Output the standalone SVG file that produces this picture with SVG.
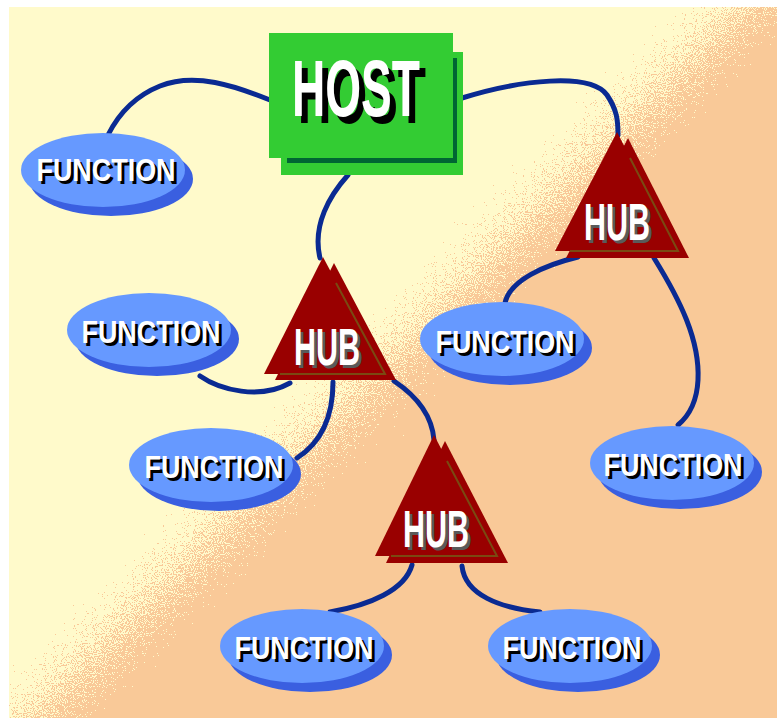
<svg xmlns="http://www.w3.org/2000/svg" width="777" height="718" viewBox="0 0 777 718">
  <defs>
    <linearGradient id="bandGrad" gradientUnits="userSpaceOnUse" x1="306" y1="306" x2="446" y2="446">
      <stop offset="0" stop-color="#f9c998" stop-opacity="0"/>
      <stop offset="1" stop-color="#f9c998" stop-opacity="1"/>
    </linearGradient>
    <!-- stippled transition between the two background tones -->
    <filter id="dither" x="0" y="0" width="100%" height="100%" color-interpolation-filters="sRGB">
      <feTurbulence type="fractalNoise" baseFrequency="0.9" numOctaves="1" seed="7" result="noise"/>
      <feColorMatrix in="noise" type="matrix" values="0 0 0 0 0  0 0 0 0 0  0 0 0 0 0  1 0 0 0 0" result="n"/>
      <feComposite in="SourceGraphic" in2="n" operator="arithmetic" k1="0" k2="1" k3="1" k4="-0.5" result="sum"/>
      <feComponentTransfer in="sum" result="mask">
        <feFuncA type="discrete" tableValues="0 1"/>
      </feComponentTransfer>
      <feFlood flood-color="#f9c998" result="peach"/>
      <feComposite in="peach" in2="mask" operator="in"/>
    </filter>
  </defs>
  <style>
    .link { fill: none; stroke: #0a2a92; stroke-width: 5; stroke-linecap: round; }
    .fn-back { fill: #3a5fe0; }
    .fn-face { fill: #6699ff; }
    .hub-back { fill: #990000; }
    .hub-face { fill: #990000; }
    .hub-edge { fill: none; stroke: #7a4a12; stroke-width: 2; }
    .lbl { font-family: "Liberation Sans", Arial, sans-serif; font-weight: bold; text-anchor: middle; }
    .fn-txt { font-size: 31px; }
    .hub-txt { font-size: 52px; }
    .host-txt { font-size: 80px; }
    .white { fill: #ffffff; }
    .black { fill: #000000; }
    .grey { fill: #5a5a5a; }
  </style>

  <!-- background -->
  <rect x="0" y="0" width="777" height="718" fill="#ffffff"/>
  <rect x="9" y="7" width="768" height="711" fill="#fffacb"/>
  <rect x="9" y="7" width="768" height="711" fill="url(#bandGrad)" filter="url(#dither)"/>

  <g id="connectors">
    <path class="link" d="M270,100 C235,86 195,72 160,86 C135,96 118,115 108,135"/>
    <path class="link" d="M462,98 C520,80 590,72 607,95 C617,110 618,120 618,135"/>
    <path class="link" d="M348,175 C330,195 312,225 320,258"/>
    <path class="link" d="M200,376 C220,390 260,400 290,383"/>
    <path class="link" d="M333,382 C333,410 325,440 297,458"/>
    <path class="link" d="M394,381 C415,395 432,415 434,440"/>
    <path class="link" d="M412,565 C405,590 370,605 330,612"/>
    <path class="link" d="M462,566 C465,595 500,608 540,612"/>
    <path class="link" d="M578,257 C545,265 510,280 505,303"/>
    <path class="link" d="M654,258 C680,300 700,340 698,380 C697,400 690,415 678,425"/>
  </g>

  <g id="host">
    <rect x="281" y="52" width="182" height="123" fill="#33cc33"/>
    <rect x="287" y="58" width="170" height="105" fill="#006633"/>
    <rect x="269" y="33" width="184" height="125" fill="#33cc33"/>
    <text class="lbl host-txt black" x="362" y="123" textLength="128" lengthAdjust="spacingAndGlyphs">HOST</text>
    <text class="lbl host-txt white" x="356" y="116" textLength="128" lengthAdjust="spacingAndGlyphs">HOST</text>
  </g>

  <g id="hub1">
    <polygon class="hub-back" points="628,138 566,258 689,258"/>
    <polygon class="hub-face" points="617,132 555,251 678,251"/>
    <polyline class="hub-edge" points="630,158 678,251 570,251"/>
    <text class="lbl hub-txt grey" x="620" y="243" textLength="66" lengthAdjust="spacingAndGlyphs">HUB</text>
    <text class="lbl hub-txt white" x="617" y="240" textLength="66" lengthAdjust="spacingAndGlyphs">HUB</text>
  </g>

  <g id="hub2">
    <polygon class="hub-back" points="334,263 275,380 396,380"/>
    <polygon class="hub-face" points="323,257 264,374 385,374"/>
    <polyline class="hub-edge" points="336,283 385,374 280,374"/>
    <text class="lbl hub-txt grey" x="330" y="368" textLength="66" lengthAdjust="spacingAndGlyphs">HUB</text>
    <text class="lbl hub-txt white" x="327" y="365" textLength="66" lengthAdjust="spacingAndGlyphs">HUB</text>
  </g>

  <g id="hub3">
    <polygon class="hub-back" points="445,441 386,563 508,563"/>
    <polygon class="hub-face" points="434,435 375,556 497,556"/>
    <polyline class="hub-edge" points="447,461 497,556 391,556"/>
    <text class="lbl hub-txt grey" x="439" y="550" textLength="66" lengthAdjust="spacingAndGlyphs">HUB</text>
    <text class="lbl hub-txt white" x="436" y="547" textLength="66" lengthAdjust="spacingAndGlyphs">HUB</text>
  </g>

  <g id="function1">
    <ellipse class="fn-back" cx="111" cy="179" rx="82" ry="37"/>
    <ellipse class="fn-face" cx="103" cy="170" rx="82" ry="37"/>
    <text class="lbl fn-txt black" x="109" y="184" textLength="139" lengthAdjust="spacingAndGlyphs">FUNCTION</text>
    <text class="lbl fn-txt white" x="106" y="181" textLength="139" lengthAdjust="spacingAndGlyphs">FUNCTION</text>
  </g>

  <g id="function2">
    <ellipse class="fn-back" cx="157" cy="339" rx="82" ry="37"/>
    <ellipse class="fn-face" cx="149" cy="330" rx="82" ry="37"/>
    <text class="lbl fn-txt black" x="154" y="346" textLength="139" lengthAdjust="spacingAndGlyphs">FUNCTION</text>
    <text class="lbl fn-txt white" x="151" y="343" textLength="139" lengthAdjust="spacingAndGlyphs">FUNCTION</text>
  </g>

  <g id="function3">
    <ellipse class="fn-back" cx="219" cy="474" rx="82" ry="37"/>
    <ellipse class="fn-face" cx="211" cy="465" rx="82" ry="37"/>
    <text class="lbl fn-txt black" x="217" y="481" textLength="139" lengthAdjust="spacingAndGlyphs">FUNCTION</text>
    <text class="lbl fn-txt white" x="214" y="478" textLength="139" lengthAdjust="spacingAndGlyphs">FUNCTION</text>
  </g>

  <g id="function4">
    <ellipse class="fn-back" cx="510" cy="348" rx="82" ry="37"/>
    <ellipse class="fn-face" cx="502" cy="339" rx="82" ry="37"/>
    <text class="lbl fn-txt black" x="508" y="356" textLength="139" lengthAdjust="spacingAndGlyphs">FUNCTION</text>
    <text class="lbl fn-txt white" x="505" y="353" textLength="139" lengthAdjust="spacingAndGlyphs">FUNCTION</text>
  </g>

  <g id="function5">
    <ellipse class="fn-back" cx="680" cy="472" rx="82" ry="37"/>
    <ellipse class="fn-face" cx="672" cy="463" rx="82" ry="37"/>
    <text class="lbl fn-txt black" x="676" y="479" textLength="139" lengthAdjust="spacingAndGlyphs">FUNCTION</text>
    <text class="lbl fn-txt white" x="673" y="476" textLength="139" lengthAdjust="spacingAndGlyphs">FUNCTION</text>
  </g>

  <g id="function6">
    <ellipse class="fn-back" cx="310" cy="655" rx="82" ry="37"/>
    <ellipse class="fn-face" cx="302" cy="646" rx="82" ry="37"/>
    <text class="lbl fn-txt black" x="307" y="662" textLength="139" lengthAdjust="spacingAndGlyphs">FUNCTION</text>
    <text class="lbl fn-txt white" x="304" y="659" textLength="139" lengthAdjust="spacingAndGlyphs">FUNCTION</text>
  </g>

  <g id="function7">
    <ellipse class="fn-back" cx="578" cy="655" rx="82" ry="37"/>
    <ellipse class="fn-face" cx="570" cy="646" rx="82" ry="37"/>
    <text class="lbl fn-txt black" x="575" y="662" textLength="139" lengthAdjust="spacingAndGlyphs">FUNCTION</text>
    <text class="lbl fn-txt white" x="572" y="659" textLength="139" lengthAdjust="spacingAndGlyphs">FUNCTION</text>
  </g>
</svg>
